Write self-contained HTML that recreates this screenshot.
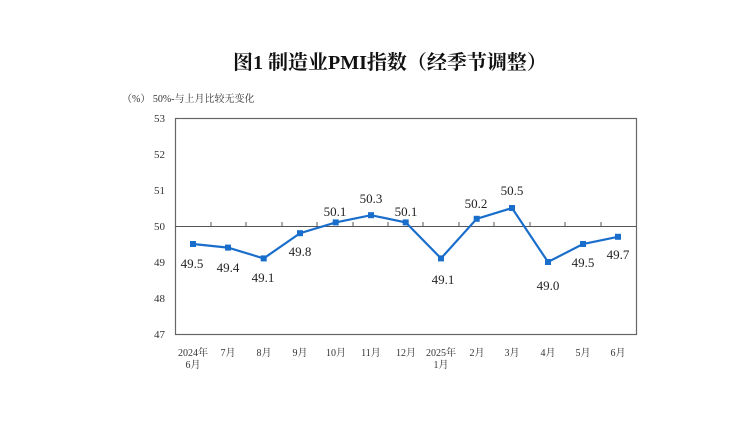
<!DOCTYPE html>
<html><head><meta charset="utf-8"><style>
body{margin:0;background:#fff;}
</style></head><body>
<svg width="750" height="430" xmlns="http://www.w3.org/2000/svg" font-family="'Liberation Serif','Noto Serif CJK SC',serif">
<rect width="750" height="430" fill="#fff"/>
<text x="390" y="69" text-anchor="middle" font-size="20" font-weight="bold" fill="#111">图1  制造业PMI指数（经季节调整）</text>
<text x="122" y="102" font-size="10" fill="#333">（%） 50%-与上月比较无变化</text>
<rect x="175.5" y="118.5" width="461" height="216" fill="none" stroke="#666" stroke-width="1.2"/>
<line x1="175" y1="226.5" x2="636" y2="226.5" stroke="#555" stroke-width="1"/>
<g stroke="#555" stroke-width="1">
<path d="M211 226v-4M246 226v-4M282 226v-4M317 226v-4M353 226v-4M388 226v-4M423 226v-4M459 226v-4M494 226v-4M530 226v-4M565 226v-4M601 226v-4"/>
</g>
<g font-size="11" fill="#333" text-anchor="end">
<text x="165" y="122">53</text><text x="165" y="158">52</text><text x="165" y="194">51</text><text x="165" y="230">50</text><text x="165" y="266">49</text><text x="165" y="302">48</text><text x="165" y="338">47</text>
</g>
<polyline fill="none" stroke="#1a6ecb" stroke-width="2.2" points="193,244 228,247.6 263.7,258.4 300,233.2 335.7,222.4 371,215.2 405.7,222.4 441,258.4 476.7,218.8 512,208 548,262 583,244 618,236.8"/>
<g fill="#1a6ecb">
<rect x="190" y="241" width="6" height="6"/><rect x="225" y="244.6" width="6" height="6"/><rect x="260.7" y="255.4" width="6" height="6"/><rect x="297" y="230.2" width="6" height="6"/><rect x="332.7" y="219.4" width="6" height="6"/><rect x="368" y="212.2" width="6" height="6"/><rect x="402.7" y="219.4" width="6" height="6"/><rect x="438" y="255.4" width="6" height="6"/><rect x="473.7" y="215.8" width="6" height="6"/><rect x="509" y="205" width="6" height="6"/><rect x="545" y="259" width="6" height="6"/><rect x="580" y="241" width="6" height="6"/><rect x="615" y="233.8" width="6" height="6"/>
</g>
<g font-size="13" fill="#222" text-anchor="middle">
<text x="192" y="268">49.5</text><text x="228" y="272">49.4</text><text x="263" y="282">49.1</text><text x="300" y="256">49.8</text><text x="335" y="216">50.1</text><text x="371" y="203">50.3</text><text x="406" y="216">50.1</text><text x="443" y="284">49.1</text><text x="476" y="208">50.2</text><text x="512" y="195">50.5</text><text x="548" y="290">49.0</text><text x="583" y="267">49.5</text><text x="618" y="259">49.7</text>
</g>
<g font-size="10" fill="#333" text-anchor="middle">
<text x="193" y="356">2024年</text><text x="193" y="368">6月</text>
<text x="228" y="356">7月</text><text x="264" y="356">8月</text><text x="300" y="356">9月</text><text x="336" y="356">10月</text><text x="371" y="356">11月</text><text x="406" y="356">12月</text>
<text x="441" y="356">2025年</text><text x="441" y="368">1月</text>
<text x="477" y="356">2月</text><text x="512" y="356">3月</text><text x="548" y="356">4月</text><text x="583" y="356">5月</text><text x="618" y="356">6月</text>
</g>
</svg>
</body></html>
